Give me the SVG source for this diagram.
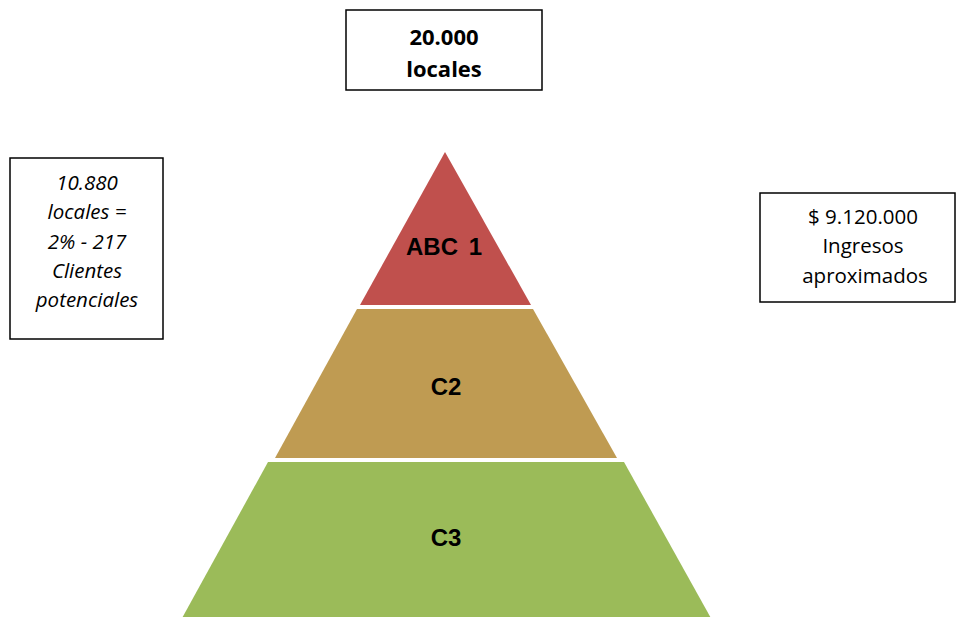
<svg xmlns="http://www.w3.org/2000/svg" width="960" height="617" viewBox="0 0 960 617">
<style>
.box{fill:#fff;stroke:#000;stroke-width:1.5}
.lbl{font-family:"Open Sans","Liberation Sans",sans-serif;font-size:20.5px;fill:#000;text-anchor:middle}
.b{font-weight:bold;font-size:22px}
.i{font-style:italic}
.lay{font-family:"Liberation Sans",Arial,sans-serif;font-weight:bold;font-size:24px;fill:#000;text-anchor:middle}
</style>
<rect width="960" height="617" fill="#fff"/>
<g id="top-box">
<rect class="box" x="346" y="10" width="196" height="80"/>
<text class="lbl b" x="444" y="45">20.000</text>
<text class="lbl b" x="444" y="77">locales</text>
</g>
<g id="left-box">
<rect class="box" x="10" y="158" width="153" height="181"/>
<text class="lbl i" x="87" y="190">10.880</text>
<text class="lbl i" x="87" y="219">locales =</text>
<text class="lbl i" x="87" y="249">2% - 217</text>
<text class="lbl i" x="87" y="278">Clientes</text>
<text class="lbl i" x="87" y="307">potenciales</text>
</g>
<g id="right-box">
<rect class="box" x="760" y="193" width="195" height="109"/>
<text class="lbl" x="863" y="224">$ 9.120.000</text>
<text class="lbl" x="863" y="253">Ingresos</text>
<text class="lbl" x="865" y="283">aproximados</text>
</g>
<g id="layer-abc1">
<polygon points="445,152 531,305 360,305" fill="#C0504D"/>
<text class="lay" x="444" y="255" word-spacing="4">ABC 1</text>
</g>
<g id="layer-c2">
<polygon points="357,309 533,309 617,458 275,458" fill="#BF9B52"/>
<text class="lay" x="446" y="395">C2</text>
</g>
<g id="layer-c3">
<polygon points="268,462 624,462 712,620 181,620" fill="#9BBB59"/>
<text class="lay" x="446" y="546">C3</text>
</g>
<g id="connectors"/>
</svg>
